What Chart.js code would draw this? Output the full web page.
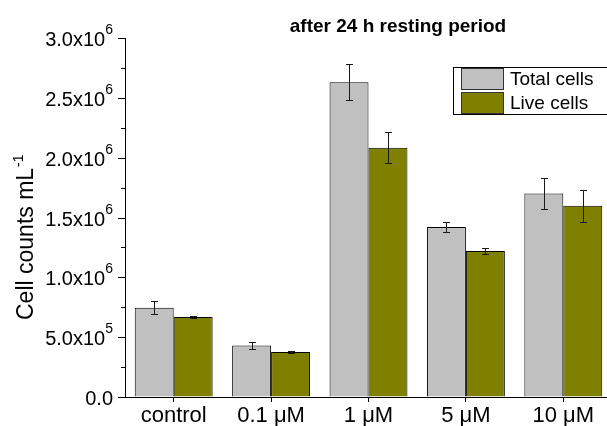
<!DOCTYPE html>
<html>
<head>
<meta charset="utf-8">
<style>
  html, body { margin: 0; padding: 0; background: #fff; overflow: hidden; }
  #wrap { width: 612px; height: 426px; }
  canvas { display: block; }
</style>
<script src="https://cdn.jsdelivr.net/npm/chart.js@4/dist/chart.umd.min.js"></script>
</head>
<body>
<div id="wrap"><canvas id="chart" width="612" height="426"></canvas></div>
<script>
// Treatment groups
const categories = ['control', '0.1 \u03BCM', '1 \u03BCM', '5 \u03BCM', '10 \u03BCM'];

// Cell counts per mL (mean and error)
const totalCells = [7.45e5, 4.30e5, 2.63e6, 1.42e6, 1.70e6];
const totalErr   = [5.5e4, 3.0e4, 1.5e5, 4.5e4, 1.33e5];
const liveCells  = [6.68e5, 3.76e5, 2.083e6, 1.22e6, 1.598e6];
const liveErr    = [1.1e4, 5.0e3, 1.3e5, 2.4e4, 1.35e5];

// Y axis tick values and labels (mantissa, exponent)
const yTickValues = [0, 5e5, 1e6, 1.5e6, 2e6, 2.5e6, 3e6];
const yTickBases  = ['0.0', '5.0x10', '1.0x10', '1.5x10', '2.0x10', '2.5x10', '3.0x10'];
const yTickExps   = ['', '5', '6', '6', '6', '6', '6'];

const seriesNames = ['Total cells', 'Live cells'];
const seriesColors = ['#C0C0C0', '#808000'];
const seriesErrors = [totalErr, liveErr];

const FONT = '"Liberation Sans", Arial, Helvetica, sans-serif';

// Error bars, minor/major y ticks, tick labels, titles and legend
const decorations = {
  id: 'decorations',
  afterDatasetsDraw(chart) {
    const ctx = chart.ctx;
    const y = chart.scales.y;
    ctx.save();
    ctx.strokeStyle = '#1a1a1a';
    ctx.lineWidth = 1;
    chart.data.datasets.forEach((ds, di) => {
      const meta = chart.getDatasetMeta(di);
      const errs = seriesErrors[di];
      meta.data.forEach((bar, i) => {
        const v = ds.data[i];
        const e = errs[i];
        const px = Math.round(bar.x) + 0.5;
        const yt = Math.round(y.getPixelForValue(v + e)) + 0.5;
        const yb = Math.round(y.getPixelForValue(v - e)) + 0.5;
        ctx.beginPath();
        ctx.moveTo(px, yt); ctx.lineTo(px, yb);
        ctx.moveTo(px - 3.5, yt); ctx.lineTo(px + 3.5, yt);
        ctx.moveTo(px - 3.5, yb); ctx.lineTo(px + 3.5, yb);
        ctx.stroke();
      });
    });
    ctx.restore();
  },
  afterDraw(chart) {
    const ctx = chart.ctx;
    const x = chart.scales.x;
    const y = chart.scales.y;
    const left = chart.chartArea.left;
    ctx.save();

    // y ticks: major every 5e5, minor in between, pointing outward
    ctx.strokeStyle = '#000';
    ctx.lineWidth = 1;
    ctx.beginPath();
    for (let v = 0; v <= 3e6 + 1; v += 2.5e5) {
      const major = Math.round(v / 2.5e5) % 2 === 0;
      const py = Math.round(y.getPixelForValue(v)) + 0.5;
      ctx.moveTo(left - (major ? 7 : 4), py);
      ctx.lineTo(left, py);
    }
    ctx.stroke();

    // y tick labels with superscript exponents
    ctx.fillStyle = '#000';
    ctx.textBaseline = 'alphabetic';
    ctx.textAlign = 'left';
    yTickValues.forEach((v, i) => {
      const py = y.getPixelForValue(v);
      ctx.font = '20px ' + FONT;
      const wb = ctx.measureText(yTickBases[i]).width;
      ctx.font = '14px ' + FONT;
      const we = yTickExps[i] ? ctx.measureText(yTickExps[i]).width : 0;
      const right = 113;
      const x0 = right - wb - we;
      ctx.font = '20px ' + FONT;
      ctx.fillText(yTickBases[i], x0, py + 8);
      if (yTickExps[i]) {
        ctx.font = '14px ' + FONT;
        ctx.fillText(yTickExps[i], x0 + wb, py - 4);
      }
    });

    // x category labels
    ctx.font = '22px ' + FONT;
    ctx.textAlign = 'center';
    chart.data.labels.forEach((lab, i) => {
      ctx.fillText(lab, x.getPixelForValue(i), 422);
    });

    // chart title
    ctx.font = 'bold 19px ' + FONT;
    ctx.textAlign = 'center';
    ctx.fillText('after 24 h resting period', 398, 32);

    // y axis title, rotated, with superscript
    ctx.save();
    ctx.translate(33, 320);
    ctx.rotate(-Math.PI / 2);
    ctx.textAlign = 'left';
    ctx.font = '23px ' + FONT;
    const main = 'Cell counts mL';
    ctx.fillText(main, 0, 0);
    const wm = ctx.measureText(main).width;
    ctx.font = '14px ' + FONT;
    ctx.fillText('-1', wm + 1, -10);
    ctx.restore();

    // legend
    ctx.strokeStyle = '#000';
    ctx.lineWidth = 1;
    ctx.strokeRect(453.5, 67.5, 170, 47);
    seriesNames.forEach((name, i) => {
      const top = 68.5 + i * 24;
      ctx.fillStyle = seriesColors[i];
      ctx.fillRect(461.5, top, 42, 21);
      ctx.strokeStyle = '#333';
      ctx.strokeRect(461.5, top, 42, 21);
      ctx.fillStyle = '#000';
      ctx.font = '19px ' + FONT;
      ctx.textAlign = 'left';
      ctx.fillText(name, 510, 85 + i * 24);
    });

    ctx.restore();
  }
};

new Chart(document.getElementById('chart'), {
  type: 'bar',
  data: {
    labels: categories,
    datasets: [
      { label: seriesNames[0], data: totalCells, backgroundColor: seriesColors[0], borderColor: '#000', borderWidth: 1 },
      { label: seriesNames[1], data: liveCells, backgroundColor: seriesColors[1], borderColor: '#000', borderWidth: 1 }
    ]
  },
  options: {
    responsive: false,
    animation: false,
    devicePixelRatio: 1,
    categoryPercentage: 0.8,
    barPercentage: 1.0,
    layout: { padding: { left: 0, right: 0, top: 38, bottom: 0 } },
    plugins: {
      legend: { display: false },
      title: { display: false },
      tooltip: { enabled: false }
    },
    scales: {
      x: {
        grid: { offset: false, drawOnChartArea: false, drawTicks: true, tickLength: 5, color: '#000', tickColor: '#000' },
        border: { display: true, color: '#000', width: 1 },
        ticks: { display: false },
        afterFit(scale) { scale.height = 426 - 397; }
      },
      y: {
        min: 0,
        max: 3e6,
        ticks: { display: false, stepSize: 5e5 },
        grid: { drawOnChartArea: false, drawTicks: false },
        border: { display: true, color: '#000', width: 1 },
        afterFit(scale) { scale.width = 125; }
      }
    }
  },
  plugins: [decorations]
});
</script>
</body>
</html>
